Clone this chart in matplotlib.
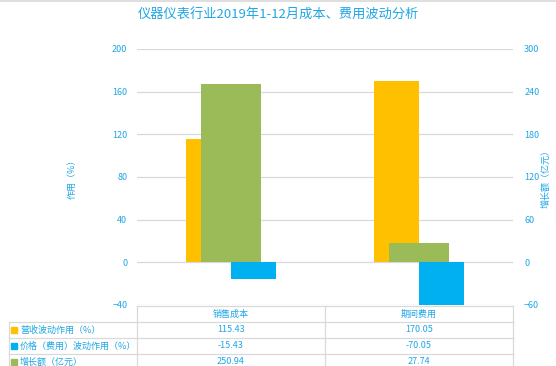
import matplotlib
matplotlib.use("Agg")
import matplotlib.pyplot as plt
from matplotlib.lines import Line2D
from matplotlib.patches import Rectangle
import numpy as np

plt.rcParams["font.family"] = ["Noto Sans CJK SC", "DejaVu Sans"]

categories = ["销售成本", "期间费用"]
revenue_effect = [115.43, 170.05]
price_effect = [-15.43, -70.05]
growth = [250.94, 27.74]
series_names = ["营收波动作用（%）", "价格（费用）波动作用（%）", "增长额（亿元）"]
left_ticks = [-40, 0, 40, 80, 120, 160, 200]
right_ticks = [-60, 0, 60, 120, 180, 240, 300]

C_ORANGE = "#FFC000"
C_BLUE = "#00B0F0"
C_GREEN = "#9BBB59"
C_TEXT = "#1FA6E6"
C_GRID = "#D9D9D9"

W, H = 556, 366
fig = plt.figure(figsize=(W / 100, H / 100), dpi=100)
fig.patch.set_facecolor("white")

# plot area in pixels
px0, px1, py0, py1 = 137, 513, 49, 305
ax = fig.add_axes([px0 / W, 1 - py1 / H, (px1 - px0) / W, (py1 - py0) / H])
ax2 = ax.twinx()

x = np.arange(len(categories))
bw = 0.24
ax.bar(x - bw / 2, revenue_effect, bw, color=C_ORANGE, zorder=2)
ax.bar(x + bw / 2, price_effect, bw, color=C_BLUE, zorder=2)
ax2.bar(x, growth, 0.314, color=C_GREEN, zorder=2)

ax.set_xlim(-0.5, 1.5)
ax.set_ylim(-40, 200)
ax2.set_ylim(-60, 300)
ax.set_yticks(left_ticks)
ax2.set_yticks(right_ticks)
ax.set_xticks([])
ax.yaxis.grid(True, color=C_GRID, lw=0.9, zorder=0)
ax.set_axisbelow(True)
for a in (ax, ax2):
    for s in a.spines.values():
        s.set_visible(False)
    a.tick_params(axis="y", length=0, labelsize=6.5, labelcolor=C_TEXT)
ax.tick_params(axis="y", pad=7)
ax2.tick_params(axis="y", pad=8)

ax.set_ylabel("作用（%）", color=C_TEXT, fontsize=6.5)
ax2.set_ylabel("增长额（亿元）", color=C_TEXT, fontsize=6.5, rotation=90)
ax.yaxis.set_label_coords(-0.16, 0.5)
ax2.yaxis.set_label_coords(1.075, 0.5)

fig.text(0.5, 1 - 15 / H, "仪器仪表行业2019年1-12月成本、费用波动分析",
         ha="center", va="center", color=C_TEXT, fontsize=9.5, weight="medium")

# data table below the plot area
def fx(p):
    return p / W

def fy(p):
    return 1 - p / H

row_y = [306, 322, 338, 354, 370]
col_x = [9, 137, 325, 513]
lines = []
for yy in row_y[:1]:
    lines.append(([col_x[1], col_x[3]], [yy, yy]))
for yy in row_y[1:4]:
    lines.append(([col_x[0], col_x[3]], [yy, yy]))
lines.append(([col_x[0], col_x[0]], [row_y[1], row_y[4]]))
for xx in col_x[1:]:
    lines.append(([xx, xx], [row_y[0], row_y[4]]))
for lx, ly in lines:
    fig.add_artist(Line2D([fx(v) for v in lx], [fy(v) for v in ly],
                          color=C_GRID, lw=0.9))

col_centers = [(col_x[1] + col_x[2]) / 2, (col_x[2] + col_x[3]) / 2]
for cx, name in zip(col_centers, categories):
    fig.text(fx(cx), fy((row_y[0] + row_y[1]) / 2), name, ha="center",
             va="center", color=C_TEXT, fontsize=6.5, weight="medium")

rows = [revenue_effect, price_effect, growth]
colors = [C_ORANGE, C_BLUE, C_GREEN]
for i, (vals, name, c) in enumerate(zip(rows, series_names, colors)):
    cy = (row_y[i + 1] + row_y[i + 2]) / 2
    fig.add_artist(Rectangle((fx(11), fy(cy + 3)), 6 / W, 6 / H,
                             color=c, transform=fig.transFigure))
    fig.text(fx(20), fy(cy), name, ha="left", va="center",
             color=C_TEXT, fontsize=6.5, weight="medium")
    for cx, v in zip(col_centers, vals):
        fig.text(fx(cx), fy(cy), f"{v:.2f}", ha="center", va="center",
                 color=C_TEXT, fontsize=6.5, weight="medium")

fig.add_artist(Line2D([0, 1], [fy(0.5), fy(0.5)], color=C_GRID, lw=1.2))

fig.savefig("out.png", dpi=100)
